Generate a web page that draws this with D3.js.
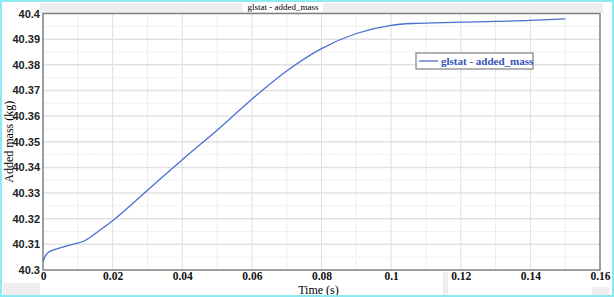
<!DOCTYPE html>
<html>
<head>
<meta charset="utf-8">
<script src="https://cdn.jsdelivr.net/npm/d3@7"></script>
<style>
  body { margin: 0; background: #fff; }
  svg { display: block; }
</style>
</head>
<body>
<svg id="chart" width="614" height="297"></svg>
<script>
// time (s)
var times = [0, 0.0005, 0.0015, 0.004, 0.008, 0.012, 0.016, 0.021, 0.026, 0.033, 0.040,
             0.050, 0.060, 0.070, 0.080, 0.090, 0.100, 0.106, 0.120, 0.140, 0.150];
// added mass (kg)
var addedMass = [40.3033, 40.3050, 40.3068, 40.3082, 40.3098, 40.3114, 40.3152, 40.3203, 40.3262, 40.3347, 40.3430,
                 40.3545, 40.3666, 40.3776, 40.3863, 40.3922, 40.3954, 40.3961, 40.3966, 40.3973, 40.3979];

var xTicks = [0, 0.02, 0.04, 0.06, 0.08, 0.1, 0.12, 0.14, 0.16];
var xMinor = [0.01, 0.03, 0.05, 0.07, 0.09, 0.11, 0.13, 0.15];
var yTicks = [40.3, 40.31, 40.32, 40.33, 40.34, 40.35, 40.36, 40.37, 40.38, 40.39, 40.4];
var yTickLabels = ["40.3", "40.31", "40.32", "40.33", "40.34", "40.35", "40.36", "40.37", "40.38", "40.39", "40.4"];
var yMinor = [40.305, 40.315, 40.325, 40.335, 40.345, 40.355, 40.365, 40.375, 40.385, 40.395];

var svg = d3.select("#chart");
var plotL = 43, plotR = 600, plotT = 13.5, plotB = 270;

var x = d3.scaleLinear().domain([0, 0.16]).range([plotL, plotR]);
var y = d3.scaleLinear().domain([40.3, 40.4]).range([plotB, plotT]);

// background bits from the original window
svg.append("rect").attr("x", 40).attr("y", 3).attr("width", 563).attr("height", 10).attr("fill", "#eeeeee");
svg.append("rect").attr("x", 243).attr("y", 2).attr("width", 80).attr("height", 10).attr("fill", "#fff");
svg.append("rect").attr("x", 3).attr("y", 283).attr("width", 37).attr("height", 12).attr("fill", "#eeeeee");
svg.append("rect").attr("x", 443).attr("y", 272).attr("width", 5).attr("height", 23).attr("fill", "#eeeeee");
svg.append("rect").attr("x", 592).attr("y", 287).attr("width", 17).attr("height", 8).attr("fill", "#eeeeee");

svg.append("text")
    .attr("x", 283).attr("y", 10)
    .attr("text-anchor", "middle")
    .style("font-family", "Liberation Serif")
    .style("font-size", "9px")
    .text("glstat - added_mass");

// grid
var grid = svg.append("g");
grid.selectAll(".vminor").data(xMinor).enter().append("line")
    .attr("x1", function(d) { return x(d); }).attr("x2", function(d) { return x(d); })
    .attr("y1", plotT).attr("y2", plotB)
    .attr("stroke", "#e4e4e4").attr("stroke-dasharray", "2,1");
grid.selectAll(".vmajor").data(xTicks.slice(1, -1)).enter().append("line")
    .attr("x1", function(d) { return x(d); }).attr("x2", function(d) { return x(d); })
    .attr("y1", plotT).attr("y2", plotB)
    .attr("stroke", "#e0e0e0");
grid.selectAll(".hminor").data(yMinor).enter().append("line")
    .attr("y1", function(d) { return y(d); }).attr("y2", function(d) { return y(d); })
    .attr("x1", plotL).attr("x2", plotR)
    .attr("stroke", "#ececec").attr("stroke-dasharray", "2,1");
grid.selectAll(".hmajor").data(yTicks.slice(1, -1)).enter().append("line")
    .attr("y1", function(d) { return y(d); }).attr("y2", function(d) { return y(d); })
    .attr("x1", plotL).attr("x2", plotR)
    .attr("stroke", "#e2e2e2").attr("stroke-width", 1.5);

// axes
var xAxis = svg.append("g")
    .attr("transform", "translate(0," + plotB + ")")
    .call(d3.axisBottom(x).tickValues(xTicks).tickSize(0).tickPadding(2)
        .tickFormat(function(d) { return d === 0 ? "0" : String(+d.toFixed(2)); }));
xAxis.select(".domain").remove();
xAxis.selectAll("text")
    .style("font-family", "Liberation Serif")
    .style("font-size", "11.5px")
    .style("font-weight", "bold")
    .attr("fill", "#111");

var yAxis = svg.append("g")
    .attr("transform", "translate(" + (plotL - 1) + ",0)")
    .call(d3.axisLeft(y).tickValues(yTicks).tickSize(0).tickPadding(2)
        .tickFormat(function(d, i) { return yTickLabels[i]; }));
yAxis.select(".domain").remove();
yAxis.selectAll("text")
    .style("font-family", "Liberation Sans")
    .style("font-size", "11px")
    .style("font-weight", "bold")
    .attr("fill", "#222");

svg.append("text")
    .attr("transform", "translate(13," + ((plotT + plotB) / 2) + ") rotate(-90)")
    .attr("text-anchor", "middle")
    .style("font-family", "Liberation Serif")
    .style("font-size", "12px")
    .text("Added mass (kg)");

svg.append("text")
    .attr("x", (plotL + plotR) / 2 - 3).attr("y", 294)
    .attr("text-anchor", "middle")
    .style("font-family", "Liberation Serif")
    .style("font-size", "12px")
    .text("Time (s)");

// frame
svg.append("rect")
    .attr("x", plotL).attr("y", plotT)
    .attr("width", plotR - plotL).attr("height", plotB - plotT)
    .attr("fill", "none").attr("stroke", "#808080").attr("stroke-width", 1.5);

// curve
var line = d3.line()
    .curve(d3.curveMonotoneX)
    .x(function(d, i) { return x(times[i]); })
    .y(function(d) { return y(d); });

svg.append("path")
    .datum(addedMass)
    .attr("d", line)
    .attr("fill", "none")
    .attr("stroke", "#4a6fd0")
    .attr("stroke-width", 1.3);

// legend
var legend = svg.append("g").attr("transform", "translate(416,53)");
legend.append("rect")
    .attr("width", 117).attr("height", 16)
    .attr("fill", "#fff").attr("stroke", "#808080").attr("stroke-width", 1.2);
legend.append("line")
    .attr("x1", 3).attr("x2", 22).attr("y1", 8).attr("y2", 8)
    .attr("stroke", "#3f5fc8").attr("stroke-width", 1.2);
legend.append("text")
    .attr("x", 25).attr("y", 12)
    .style("font-family", "Liberation Serif")
    .style("font-size", "11px")
    .style("font-weight", "bold")
    .attr("fill", "#3550b8")
    .text("glstat - added_mass");

// outer border
svg.append("rect")
    .attr("x", 1).attr("y", 1).attr("width", 612).attr("height", 295)
    .attr("fill", "none").attr("stroke", "#8eeaf2").attr("stroke-width", 2);
</script>
</body>
</html>
